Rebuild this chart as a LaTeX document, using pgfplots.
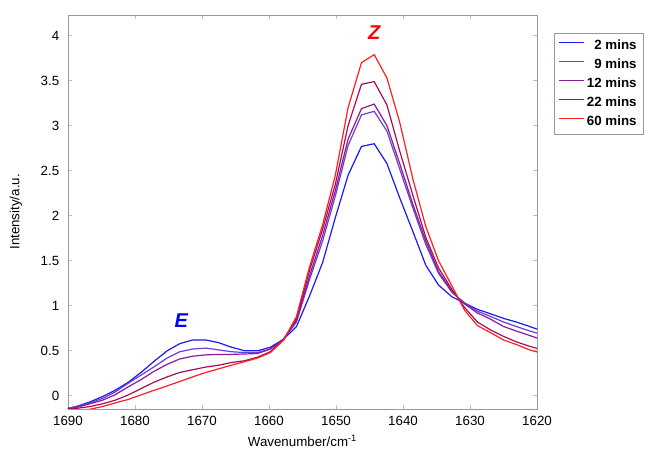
\documentclass[border=0pt]{standalone}
\usepackage{fontspec}
\setmainfont{Liberation Sans}
\usepackage{pgfplots}
\usepackage{pgfplotstable}
\pgfplotsset{compat=1.18}

\definecolor{cA}{rgb}{0.10,0.10,1.00}
\definecolor{cB}{rgb}{0.40,0.25,0.85}
\definecolor{cC}{rgb}{0.55,0.10,0.60}
\definecolor{cD}{rgb}{0.65,0.05,0.35}
\definecolor{cE}{rgb}{1.00,0.12,0.12}

% wavenumber, then intensity at 2, 9, 12, 22, 60 mins
\pgfplotstableread{
w      m2    m9    m12   m22   m60
1619.2 0.72  0.68  0.62  0.51  0.47
1621.1 0.77  0.72  0.67  0.55  0.51
1623.1 0.82  0.77  0.72  0.60  0.57
1625.0 0.86  0.82  0.77  0.66  0.62
1626.9 0.91  0.88  0.85  0.73  0.70
1628.9 0.96  0.94  0.92  0.82  0.78
1630.8 1.03  1.03  1.02  0.98  0.95
1632.7 1.10  1.15  1.16  1.18  1.22
1634.7 1.23  1.36  1.38  1.42  1.50
1636.6 1.45  1.68  1.72  1.76  1.88
1638.5 1.82  2.08  2.12  2.22  2.40
1640.5 2.20  2.52  2.58  2.72  3.04
1642.4 2.58  2.94  3.00  3.23  3.53
1644.3 2.80  3.16  3.24  3.49  3.79
1646.2 2.77  3.12  3.19  3.46  3.70
1648.2 2.45  2.78  2.85  3.00  3.20
1650.1 1.98  2.22  2.28  2.35  2.45
1652.0 1.48  1.72  1.78  1.85  1.90
1654.0 1.10  1.28  1.32  1.38  1.42
1655.9 0.77  0.82  0.84  0.86  0.88
1657.8 0.63  0.63  0.63  0.63  0.62
1659.8 0.54  0.52  0.52  0.49  0.48
1661.7 0.50  0.48  0.47  0.43  0.42
1663.6 0.50  0.48  0.465 0.39  0.38
1665.6 0.54  0.49  0.46  0.37  0.34
1667.5 0.59  0.51  0.46  0.34  0.30
1669.4 0.62  0.53  0.455 0.32  0.26
1671.4 0.62  0.52  0.44  0.29  0.21
1673.3 0.58  0.49  0.41  0.26  0.16
1675.2 0.50  0.42  0.35  0.21  0.11
1677.2 0.38  0.32  0.27  0.15  0.06
1679.1 0.26  0.23  0.18  0.08  0.01
1681.0 0.15  0.14  0.10  0.01  -0.04
1683.0 0.06  0.04  0.01  -0.05 -0.08
1684.9 -0.01 -0.03 -0.05 -0.09 -0.12
1686.8 -0.07 -0.08 -0.09 -0.12 -0.15
1688.8 -0.12 -0.12 -0.13 -0.14 -0.16
1690.7 -0.15 -0.15 -0.15 -0.15 -0.16
}\spectra

\begin{document}
\begin{tikzpicture}
\begin{axis}[
    scale only axis,
    width=352pt, height=295.5pt,
    x dir=reverse,
    xmin=1620, xmax=1690,
    ymin=-0.144, ymax=4.23,
    xtick={1620,1630,...,1690},
    ytick={0,0.5,...,4},
    /pgf/number format/assume math mode=true,
    /pgf/number format/1000 sep={},
    tick label style={font=\fontsize{10}{12}\selectfont},
    xticklabel style={yshift=-2pt},
    yticklabel style={xshift=-3pt},
    label style={font=\fontsize{10}{12}\selectfont},
    xlabel={Wavenumber/cm\textsuperscript{-1}},
    ylabel={Intensity/a.u.},
    ylabel style={yshift=7pt},
    axis line style={gray!80},
    tick style={gray!50, line width=0.5pt},
    major tick length=3pt,
    tick align=inside,
    legend style={at={(1.036,0.954)}, anchor=north west,
        draw=gray!80, font=\bfseries\fontsize{10}{12}\selectfont,
        row sep=1.5pt, inner sep=3pt},
    legend cell align=right,
    legend image code/.code={\draw[#1, line width=1.1pt] (0cm,2.5pt) -- (0.65cm,2.5pt);},
    every axis plot/.append style={line width=0.9pt},
    clip=true,
]
\addplot[cA] table[x=w, y=m2] {\spectra};
\addlegendentry{2 mins}
\addplot[cB] table[x=w, y=m9] {\spectra};
\addlegendentry{9 mins}
\addplot[cC] table[x=w, y=m12] {\spectra};
\addlegendentry{12 mins}
\addplot[cD] table[x=w, y=m22] {\spectra};
\addlegendentry{22 mins}
\addplot[cE] table[x=w, y=m60] {\spectra};
\addlegendentry{60 mins}
\node[text=red, font=\bfseries\itshape\fontsize{15}{16}\selectfont] at (axis cs:1644.3,4.03) {Z};
\node[text=blue, font=\bfseries\itshape\fontsize{15}{16}\selectfont] at (axis cs:1673.1,0.84) {E};
\end{axis}
\path (current axis.south west) ++(-51pt,-30pt);
\path (current axis.north east) ++(84pt,11.25pt);
\end{tikzpicture}
\end{document}
